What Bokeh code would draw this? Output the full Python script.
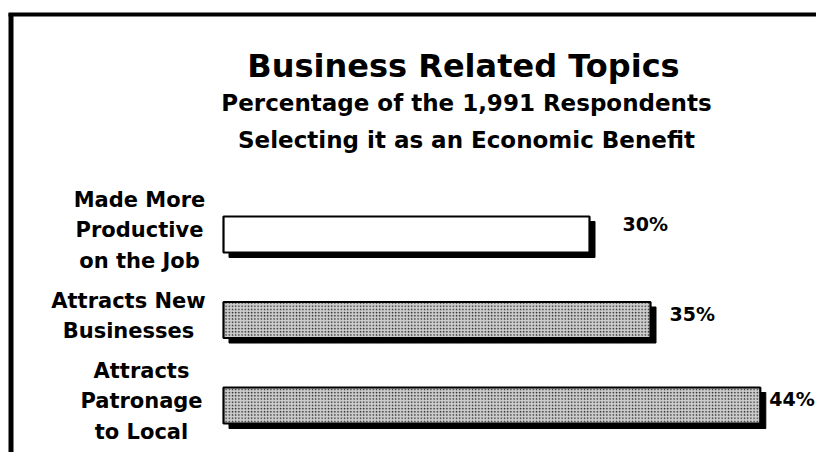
from bokeh.plotting import figure
from bokeh.models import Range1d, ColumnDataSource, Label, BoxAnnotation
from bokeh.core.properties import value
from bokeh.embed import file_html
from bokeh.resources import INLINE

# ---- data ----
categories = ["Made More\nProductive\non the Job",
              "Attracts New\nBusinesses",
              "Attracts\nPatronage\nto Local"]
percentages = [30, 35, 44]
value_labels = ["30%", "35%", "44%"]
title_text = "Business Related Topics"
subtitle_lines = ["Percentage of the 1,991 Respondents",
                  "Selecting it as an Economic Benefit"]

# ---- layout / style constants (pixels) ----
W, H = 816, 452
PX_PER_PCT = 12.2
ZERO_PX = 223.0
PX_PER_ROW = 85.5
ROW0_PX = 234.0
BAR_PX = 36.0
LABEL_X_PX = [139, 128, 141]
LABEL_DY_PX = -4.0
VAL_DX_PX = [33, 19, 9]
VAL_DY_PX = [-11, -6, -7]
SHADOW_DX_PX, SHADOW_DY_PX = 5.5, 5.0
FONT = value("DejaVu Sans")

x0 = -ZERO_PX / PX_PER_PCT
x1 = (W - ZERO_PX) / PX_PER_PCT
y_top = -ROW0_PX / PX_PER_ROW
y_bot = (H - ROW0_PX) / PX_PER_ROW


def px_x(px):
    return x0 + px / PX_PER_PCT


def px_y(py):
    return y_top + py / PX_PER_ROW


idx = list(range(len(categories)))
dx = SHADOW_DX_PX / PX_PER_PCT
dy = SHADOW_DY_PX / PX_PER_ROW
bar_h = BAR_PX / PX_PER_ROW

src = ColumnDataSource(dict(
    y=idx,
    left=[0] * len(idx),
    right=percentages,
    sy=[i + dy for i in idx],
    sleft=[dx] * len(idx),
    sright=[v + dx for v in percentages],
    fill=["white", "#cdcdcd", "#cdcdcd"],
    hatch=[" ", ".", "."],
    cat=categories,
    cat_x=[px_x(px) for px in LABEL_X_PX],
    cat_y=[i + LABEL_DY_PX / PX_PER_ROW for i in idx],
    val=value_labels,
    val_x=[v + d / PX_PER_PCT for v, d in zip(percentages, VAL_DX_PX)],
    val_y=[i + d / PX_PER_ROW for i, d in zip(idx, VAL_DY_PX)],
))

p = figure(width=W, height=H, output_backend="svg", toolbar_location=None,
           x_range=Range1d(x0, x1), y_range=Range1d(y_bot, y_top),
           x_axis_location=None, y_axis_location=None, min_border=0)
p.grid.visible = False
p.outline_line_color = None
p.background_fill_color = "white"
p.border_fill_color = "white"

# frame lines (left and top)
p.add_layout(BoxAnnotation(left=px_x(8), right=px_x(13), top=px_y(13), bottom=None,
                           fill_color="black", fill_alpha=1, line_color=None))
p.add_layout(BoxAnnotation(left=px_x(8), right=None, top=px_y(12), bottom=px_y(16),
                           fill_color="black", fill_alpha=1, line_color=None))

# shadows
p.hbar(y="sy", left="sleft", right="sright", height=bar_h, source=src,
       fill_color="black", line_color="black")
# bars
p.hbar(y="y", left="left", right="right", height=bar_h, source=src,
       fill_color="fill", line_color="black", line_width=2.2,
       hatch_pattern="hatch", hatch_color="#222222", hatch_scale=3.2,
       hatch_weight=1)

# category labels
p.text(x="cat_x", y="cat_y", text="cat", source=src, text_font=FONT,
       text_font_style="bold", text_font_size="21px", text_align="center",
       text_baseline="middle", text_line_height=1.28, text_color="black")

# value labels
p.text(x="val_x", y="val_y", text="val", source=src, text_font=FONT,
       text_font_style="bold", text_font_size="19px", text_align="left",
       text_baseline="middle", text_color="black")

# titles
p.add_layout(Label(x=px_x(463), y=px_y(65), text=title_text, text_font="DejaVu Sans",
                   text_font_style="bold", text_font_size="32px", text_color="black",
                   text_align="center", text_baseline="alphabetic"))
for k, line in enumerate(subtitle_lines):
    p.add_layout(Label(x=px_x(466), y=px_y(102 + 37 * k), text=line,
                       text_font="DejaVu Sans", text_font_style="bold",
                       text_font_size="23px", text_color="black",
                       text_align="center", text_baseline="alphabetic"))

open("out.html", "w").write(file_html(p, INLINE))
